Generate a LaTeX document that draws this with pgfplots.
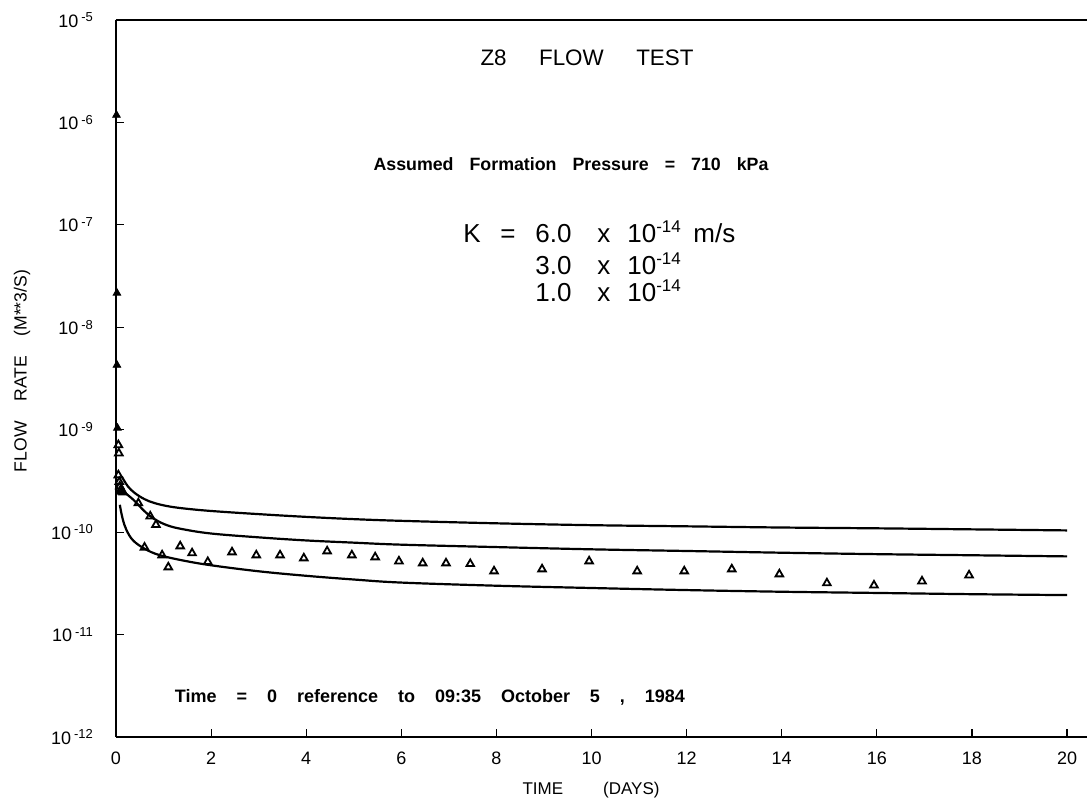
\documentclass[border=0pt]{standalone}
\usepackage{fontspec}
\setmainfont{Liberation Sans}
\usepackage{pgfplots}
\pgfplotsset{compat=1.18}
% decade label: 10 with a raised exponent
\newcommand{\dec}[1]{10\,\raisebox{0.55ex}{\fontsize{6.5}{6.5}\selectfont #1}}

\begin{document}
\begin{tikzpicture}
\path[use as bounding box] (-58pt,-33.5pt) rectangle (485.5pt,368.5pt);
\begin{axis}[
  at={(0pt,0pt)}, anchor=south west,
  scale only axis, width=485.5pt, height=358.5pt,
  xmin=0, xmax=20.42,
  ymode=log, ymin=1e-12, ymax=1e-5,
  axis line style={draw=none},
  clip=false,
  xtick={0,2,4,6,8,10,12,14,16,18,20},
  xticklabels={0,2,4,6,8,10,12,14,16,18,20},
  ytick={1e-12,1e-11,1e-10,1e-9,1e-8,1e-7,1e-6,1e-5},
  yticklabels={\dec{-12},\dec{-11},\dec{-10},\dec{-9},\dec{-8},\dec{-7},\dec{-6},\dec{-5}},
  yminorticks=false, xminorticks=false,
  xtick pos=bottom, ytick pos=left,
  tick align=inside, major tick length=4pt,
  tick style={black, line width=0.6pt},
  ticklabel style={font=\fontsize{9}{9}\selectfont},
  xticklabel style={yshift=-4pt},
  yticklabel style={anchor=east, xshift=-8pt},
]
% frame: heavy left spine, bottom and top lines
\draw[line width=1.1pt] (rel axis cs:0,1) -- (rel axis cs:0,0);
\draw[line width=0.9pt] (rel axis cs:0,0) -- (rel axis cs:1,0);
\draw[line width=0.7pt] (rel axis cs:0,1) -- (rel axis cs:1,1);

% model curves, K = 6.0, 3.0, 1.0 x 10^-14 m/s
\addplot[black, line width=1.1pt, smooth, tension=0.6] coordinates {
  (0.12,3.5e-10) (0.25,2.8e-10) (0.4,2.4e-10) (0.6,2.1e-10) (0.8,1.93e-10)
  (1.07,1.8e-10) (1.4,1.71e-10) (2,1.61e-10) (3,1.5e-10) (4,1.41e-10)
  (5,1.34e-10) (6,1.29e-10) (8,1.22e-10) (10,1.17e-10) (12,1.14e-10)
  (14,1.11e-10) (16,1.09e-10) (18,1.065e-10) (20,1.04e-10)};
\addplot[black, line width=1.1pt, smooth, tension=0.6] coordinates {
  (0.1,2.6e-10) (0.25,2.3e-10) (0.4,2.0e-10) (0.6,1.6e-10) (0.8,1.35e-10)
  (1.07,1.17e-10) (1.4,1.07e-10) (2,9.7e-11) (3,8.9e-11) (4,8.3e-11)
  (5,7.9e-11) (6,7.55e-11) (8,7.15e-11) (10,6.8e-11) (12,6.55e-11)
  (14,6.3e-11) (16,6.1e-11) (18,5.95e-11) (20,5.8e-11)};
\addplot[black, line width=1.1pt, smooth, tension=0.6] coordinates {
  (0.08,1.85e-10) (0.14,1.35e-10) (0.22,1.05e-10) (0.36,8.3e-11) (0.6,6.9e-11)
  (0.9,6.0e-11) (1.4,5.3e-11) (2,4.75e-11) (3,4.15e-11) (4,3.75e-11)
  (5,3.45e-11) (6,3.22e-11) (8,3.0e-11) (10,2.85e-11) (12,2.72e-11)
  (14,2.62e-11) (16,2.55e-11) (18,2.48e-11) (20,2.43e-11)};

% measured flow rates: first readings on the axis
\addplot[only marks, mark=triangle*, mark size=2.2pt, black] coordinates {
  (0.01,1.18e-6) (0.02,2.16e-8) (0.02,4.28e-9) (0.03,1.04e-9)};
% measured flow rates
\addplot[only marks, mark=triangle, mark size=2.2pt, black, line width=0.9pt] coordinates {
  (0.05,7.1e-10) (0.06,5.9e-10)
  (0.05,3.6e-10) (0.07,3.1e-10) (0.08,2.8e-10) (0.1,2.6e-10) (0.12,2.5e-10) (0.15,2.45e-10)
  (0.47,1.92e-10) (0.6,7.1e-11) (0.72,1.43e-10) (0.84,1.18e-10) (0.97,5.96e-11)
  (1.1,4.55e-11) (1.35,7.3e-11) (1.6,6.24e-11) (1.93,5.13e-11) (2.44,6.38e-11)
  (2.95,5.96e-11) (3.45,5.96e-11) (3.95,5.57e-11) (4.44,6.52e-11) (4.96,5.96e-11)
  (5.45,5.7e-11) (5.95,5.2e-11) (6.45,4.98e-11) (6.94,4.98e-11) (7.45,4.9e-11)
  (7.95,4.16e-11) (8.96,4.35e-11) (9.95,5.21e-11) (10.96,4.16e-11) (11.95,4.16e-11)
  (12.95,4.35e-11) (13.95,3.89e-11) (14.95,3.18e-11) (15.94,3.03e-11)
  (16.95,3.32e-11) (17.94,3.8e-11)};
\end{axis}

% annotations
\node[font=\fontsize{11.2}{11.2}\selectfont] at (235.5pt,339.5pt)
  {\makebox[106.5pt][s]{Z8\hfill FLOW\hfill TEST}};
\node[font=\bfseries\fontsize{8.9}{8.9}\selectfont] at (227.5pt,286.5pt)
  {\makebox[197.5pt][s]{Assumed\hfill Formation\hfill Pressure\hfill =\hfill 710\hfill kPa}};
\begin{scope}[every node/.style={anchor=base west, inner sep=0pt, font=\fontsize{13}{13}\selectfont}]
  \node at (173.5pt,247pt) {K};
  \node at (192pt,247pt) {=};
  \node at (209.5pt,247pt) {6.0};
  \node at (240.5pt,247pt) {x};
  \node at (255.5pt,247pt) {10\raisebox{0.8ex}{\fontsize{8.5}{8.5}\selectfont -14}};
  \node at (288.5pt,247pt) {m/s};
  \node at (209.5pt,231pt) {3.0};
  \node at (240.5pt,231pt) {x};
  \node at (255.5pt,231pt) {10\raisebox{0.8ex}{\fontsize{8.5}{8.5}\selectfont -14}};
  \node at (209.5pt,217.5pt) {1.0};
  \node at (240.5pt,217.5pt) {x};
  \node at (255.5pt,217.5pt) {10\raisebox{0.8ex}{\fontsize{8.5}{8.5}\selectfont -14}};
\end{scope}
\node[font=\bfseries\fontsize{9}{9}\selectfont] at (157pt,20pt)
  {\makebox[255pt][s]{Time\hfill =\hfill 0\hfill reference\hfill to\hfill 09:35\hfill October\hfill 5\hfill ,\hfill 1984}};
\node[font=\fontsize{8.5}{8.5}\selectfont] at (237.5pt,-26.5pt)
  {\makebox[68.5pt][s]{TIME\hfill (DAYS)}};
\node[font=\fontsize{8.8}{8.8}\selectfont, rotate=90] at (-47pt,183pt)
  {\makebox[101pt][s]{FLOW\hfill RATE\hfill (M**3/S)}};
\end{tikzpicture}
\end{document}
